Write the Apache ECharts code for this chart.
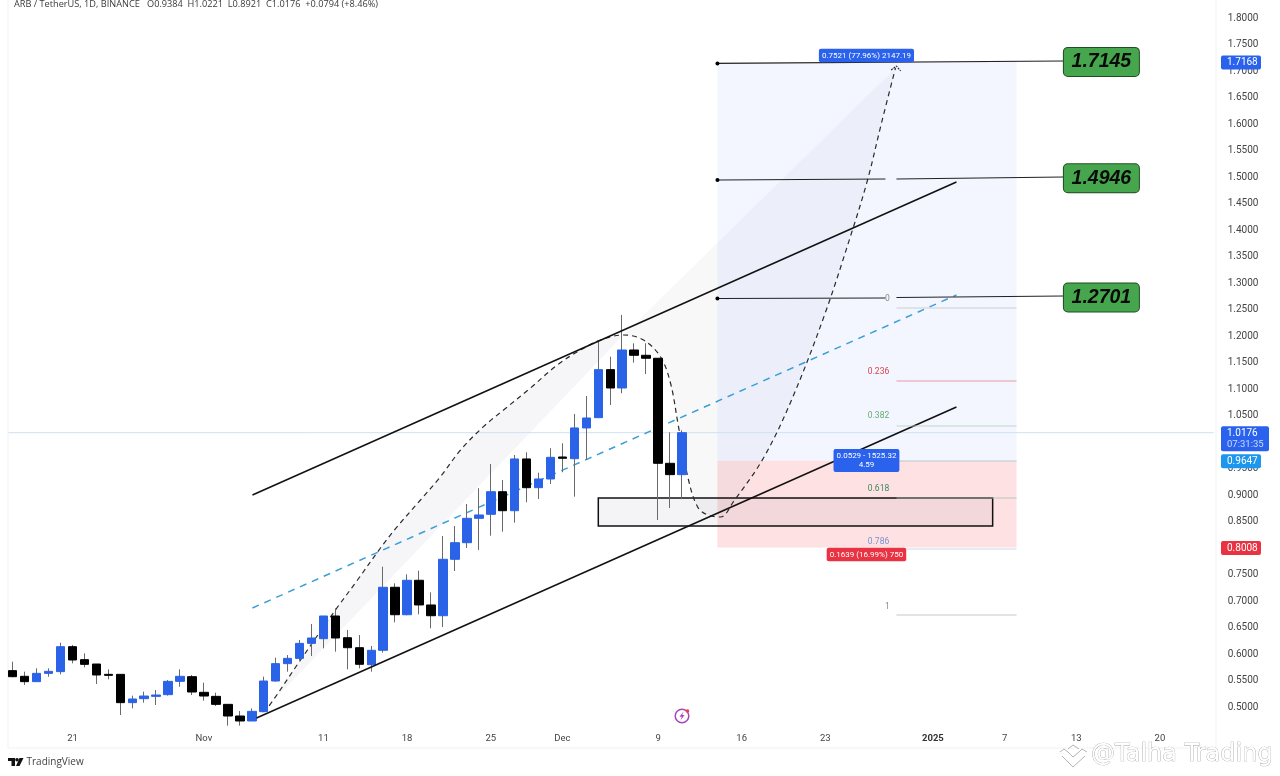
<!DOCTYPE html>
<html>
<head>
<meta charset="utf-8">
<style>html,body{margin:0;padding:0;background:#fff}#c{width:1280px;height:776px}</style>
<script src="https://cdn.jsdelivr.net/npm/echarts@6/dist/echarts.min.js"></script>
</head>
<body>
<div id="c"></div>
<script>
// Day index: 0 = 21 Oct 2024
var firstDay = -5;
var opens  = [.5686,.5579,.5478,.5635,.5667,.6138,.5893,.5811,.5616,.5616,.5082,.5157,.5201,.5233,.5484,.5572,.5277,.5201,.5050,.4830,.4736,.4912,.5490,.5818,.5918,.6201,.6289,.6717,.6307,.6119,.5798,.6070,.7259,.6741,.7391,.6925,.6722,.7787,.8100,.8560,.8636,.9062,.8704,.9680,.9138,.9302,.9717,.9685,1.0265,1.0459,1.1365,1.1019,1.1736,1.1636,1.1580,.9598,.9384];
var closes = [.5572,.5478,.5635,.5673,.6138,.5887,.5805,.5604,.5597,.5082,.5151,.5207,.5226,.5484,.5579,.5283,.5207,.5050,.4830,.4736,.4918,.5490,.5818,.5918,.6201,.6302,.6717,.6302,.6119,.5806,.6070,.7259,.6741,.7391,.6925,.6722,.7787,.8100,.8560,.8623,.9062,.8704,.9680,.9138,.9302,.9711,.9693,1.0265,1.0453,1.1365,1.1019,1.1736,1.1636,1.1580,.9598,.9384,1.0176];
var lows   = [.5560,.5415,.5478,.5572,.5616,.5824,.5748,.5434,.5522,.4849,.4975,.5082,.5038,.5214,.5384,.5226,.5119,.5019,.4648,.4648,.4736,.4912,.5478,.5667,.5887,.5962,.6107,.6044,.5711,.5730,.5666,.6025,.6598,.6730,.6749,.6485,.6509,.7566,.8000,.7963,.8232,.8308,.8478,.8863,.8925,.9208,.9429,.8968,.9661,1.0459,1.0698,1.0919,1.1497,1.1283,.8529,.8755,.8921];
var highs  = [.5855,.5667,.5730,.5730,.6214,.6170,.6013,.5811,.5711,.5616,.5214,.5289,.5321,.5509,.5711,.5604,.5459,.5270,.5050,.4924,.4975,.5572,.5931,.5981,.6264,.6566,.6717,.6862,.6453,.6358,.6151,.7647,.7334,.7504,.7572,.7164,.8226,.8415,.8830,.9127,.9585,.9283,.9755,.9806,.9421,.9882,.9976,1.0529,1.0868,1.1893,1.1610,1.2397,1.1863,1.1863,1.1580,1.0183,1.0221];

var xTickLabels = {0:'21',11:'Nov',21:'11',28:'18',35:'25',41:'Dec',49:'9',56:'16',63:'23',72:'{b|2025}',78:'7',84:'13',91:'20'};
var curveDays = [15.9,16.4,19.08,22.0,23.85,25.77,27.17,29.12,30.79,32.47,34.39,36.07,38.33,40.56,42.51,44.18,46.11,47.78,49.2,50.04,50.71,51.55,52.3,53.14,54.23,55.31,57.82,60.17,62.93,65.27,66.53,67.7,68.87];
var curvePrices = [.4906,.5006,.5887,.683,.7396,.8,.8402,.8906,.9345,.9849,1.0289,1.0604,1.1019,1.1453,1.1736,1.1925,1.2019,1.1925,1.1609,1.1113,1.0289,.9283,.8779,.8623,.8585,.8874,.9698,1.0792,1.2396,1.4,1.4943,1.6019,1.7057];
var curveSplit = 16; // the curve's peak: two filled sections meet here
var arrowDays = [68.5,68.95,69.3];
var arrowPrices = [1.7019,1.7094,1.7];
var channelUpper = [[15.06,.9],[73.97,1.4906]];
var channelLower = [[15.4,.4792],[73.97,1.066]];
var channelMid   = [[15.06,.6868],[73.97,1.2774]];
var targetLines = [
  [[53.97,1.7142],[82.93,1.7189]],
  [[53.97,1.4943],[68.03,1.4962]],
  [[68.95,1.4962],[82.93,1.5]],
  [[53.97,1.2708],[68.03,1.2717]],
  [[68.95,1.2726],[82.93,1.2755]]
];
var anchorPoints = [[53.97,1.7142],[53.97,1.4943],[53.97,1.2708]];
var targetLabels = [['1.7145',86.1,1.7172],['1.4946',86.1,1.4975],['1.2701',86.1,1.2725]];
var fibLevels = ['0','0.236','0.382','0.5','0.618','0.786','1'];
var fibPrices = [1.2528,1.1151,1.0302,.9642,.8943,.7981,.6736];
var fibColors = ['#c4c4c8','#e8828a','#b4d0b8','#9ec4c8','#a5c0b0','#c0cce8','#b8b8bc'];
var fibLabelDays = [68.2,67.45,67.45,null,67.45,67.45,68.2];
var fibLabelPrices = [1.2700,1.132,1.0485,null,.9112,.8125,.6890];
var fibLabelColors = ['#888','#d9434f','#6aab72',null,'#3d8a5c','#7b92cc','#888'];
var fibStart = 68.95, fibEnd = 79;
var positionBox = {left:53.97,right:79,target:1.7168,entry:.9647,stop:.8008};
var zoneBox = [44,.8943,77,.8415];
var lastPrice = 1.0176;
var yTicksFrom = .5;
var priceTags = [
  [1.7168,'1.7168','','#2a62ee',40],
  [1.0176,'1.0176','07:31:35','#2a62ee',48],
  [.9647,'0.9647','','#1d97ee',40],
  [.8008,'0.8008','','#ea3342',40]
];
var positionTags = [
  ['0.7521 (77.96%) 2147.19',66.44,1.7292,'#2a62ee'],
  ['0.0529 - 1525.32\n4.59',66.44,.9651,'#2a62ee'],
  ['0.1639 (16.99%) 750',66.44,.7877,'#ea3342']
];

var BLUE='#2a62e8', BLACK='#000000', FONT='Roboto, "Open Sans", sans-serif';
var days = opens.map(function(_,i){return firstDay+i;});
var wickData = days.map(function(d,i){return [d,opens[i],closes[i],lows[i],highs[i]];});
var bodyData = days.map(function(d,i){
  return [d,opens[i],closes[i],Math.min(opens[i],closes[i]),Math.max(opens[i],closes[i])];
});
function zip(a,b){return a.map(function(v,i){return [v,b[i]];});}
var curve = zip(curveDays,curvePrices);

function lineS(data,color,width,type,z,smooth){
  return {type:'line',data:data,symbol:'none',silent:true,z:z,smooth:smooth||false,clip:false,
    lineStyle:{color:color,width:width,type:type||'solid',cap:'butt'}};
}
function rectS(data,color,stroke,z){
  return {type:'custom',silent:true,z:z,clip:false,data:[data],encode:{x:[0,2],y:[1,3]},
    renderItem:function(p,api){
      var a=api.coord([api.value(0),api.value(1)]),b=api.coord([api.value(2),api.value(3)]);
      return {type:'rect',shape:{x:a[0],y:a[1],width:b[0]-a[0],height:b[1]-a[1]},
        style:{fill:color,stroke:stroke||null,lineWidth:1.5}};
    }};
}
function polyS(pts,color,z){
  return {type:'custom',silent:true,z:z,clip:false,data:pts,encode:{x:0,y:1},
    renderItem:function(p,api){
      if(p.dataIndex!==0) return null;
      return {type:'polygon',shape:{points:pts.map(function(q){return api.coord(q);})},style:{fill:color}};
    }};
}
function labelS(item,label,z){
  return {type:'scatter',silent:true,z:z,symbolSize:1,itemStyle:{color:'rgba(0,0,0,0)',opacity:1},clip:false,
    data:[item],label:Object.assign({show:true,position:'inside'},label)};
}

var series = [
  rectS([positionBox.left,positionBox.target,positionBox.right,positionBox.entry],'rgba(41,98,255,0.055)',null,1),
  rectS([positionBox.left,positionBox.entry,positionBox.right,positionBox.stop],'rgba(242,54,69,0.15)',null,1),
  polyS(curve.slice(0,curveSplit+1),'rgba(110,110,140,0.06)',2),
  polyS(curve.slice(curveSplit),'rgba(110,110,140,0.05)',2),
  rectS(zoneBox,'rgba(70,70,100,0.06)','#111',3),
  lineS([[-5.36,lastPrice],[95.5,lastPrice]],'#cfe2f3',1,null,3),
  lineS(channelMid,'#3a9fd6',1.5,[7,6],3),
  lineS(curve,'#2a2a2a',1.2,[5,4],3,0.35),
  {type:'candlestick',name:'wicks',data:wickData,encode:{x:0,y:[1,2,3,4]},barWidth:1,z:4,silent:true,clip:false,
    itemStyle:{color:'#6a6a6a',color0:'#6a6a6a',borderColor:'#6a6a6a',borderColor0:'#6a6a6a',borderWidth:1}},
  {type:'candlestick',name:'ARB / TetherUS',data:bodyData,encode:{x:0,y:[1,2,3,4]},barWidth:9,z:5,silent:true,clip:false,
    itemStyle:{color:BLUE,color0:BLACK,borderColor:BLUE,borderColor0:BLACK,borderWidth:1}},
  lineS(channelUpper,'#111',1.5,null,6),
  lineS(channelLower,'#111',1.5,null,6),
  lineS(zip(arrowDays,arrowPrices),'#2a2a2a',1.1,[2,1],6)
];
targetLines.forEach(function(l){series.push(lineS(l,'#222',1.2,null,6));});
fibLevels.forEach(function(name,i){
  series.push(lineS([[fibStart,fibPrices[i]],[fibEnd,fibPrices[i]]],fibColors[i],.8,null,6));
  if(fibLabelDays[i]!==null){
    series.push(labelS([fibLabelDays[i],fibLabelPrices[i]],
      {formatter:name,color:fibLabelColors[i],fontSize:8.5,fontFamily:FONT},7));
  }
});
series.push({type:'scatter',data:anchorPoints,symbolSize:4,z:7,silent:true,clip:false,itemStyle:{color:'#000',opacity:1}});
targetLabels.forEach(function(t){
  series.push(labelS([t[1],t[2]],{formatter:t[0],color:'#0a0a0a',fontSize:19.5,fontWeight:'bold',fontStyle:'italic',
    fontFamily:'"Liberation Sans", sans-serif',backgroundColor:'#46a64d',borderColor:'#1f4d24',borderWidth:1,borderRadius:4,
    width:75,height:28,lineHeight:28,align:'center',verticalAlign:'middle'},8));
});
positionTags.forEach(function(t){
  series.push(labelS([t[1],t[2]],{formatter:t[0],color:'#fff',fontSize:8,lineHeight:9.5,fontFamily:FONT,align:'center',
    backgroundColor:t[3],borderRadius:2,padding:[2,3]},8));
});
series.push({type:'custom',silent:true,z:9,clip:false,data:priceTags.map(function(t){return [95,t[0]];}),encode:{x:0,y:1},
  renderItem:function(p,api){
    var t=priceTags[p.dataIndex], c=api.coord([api.value(0),api.value(1)]), x=1221, y=c[1]+.5, two=!!t[2];
    var kids=[
      {type:'rect',shape:{x:x,y:y-7,width:t[4],height:two?25:14,r:2},style:{fill:t[3]}},
      {type:'text',style:{x:x+6,y:y,text:t[1],fill:'#fff',font:'10px '+FONT,verticalAlign:'middle'}}
    ];
    if(two) kids.push({type:'text',style:{x:x+6,y:y+11,text:t[2],fill:'rgba(255,255,255,0.75)',font:'9.5px '+FONT,verticalAlign:'middle'}});
    return {type:'group',children:kids};
  }});

var option = {
  animation:false,
  backgroundColor:'#ffffff',
  title:{text:'ARB / TetherUS, 1D, BINANCE   O0.9384  H1.0221  L0.8921  C1.0176  +0.0794 (+8.46%)',left:14,top:0,padding:0,
    textStyle:{fontSize:9.2,fontWeight:'normal',color:'#3a3a3a',fontFamily:'"Open Sans", sans-serif'}},
  grid:{left:0.8,right:60.3,top:18,bottom:42.5,containLabel:false,outerBoundsMode:'none'},
  xAxis:{type:'value',min:-6,max:96,interval:1,splitLine:{show:false},axisLine:{show:false},axisTick:{show:false},
    axisLabel:{margin:0,fontSize:9.5,color:'#444',fontFamily:FONT,showMinLabel:true,showMaxLabel:true,hideOverlap:false,
      formatter:function(v){return xTickLabels[v]||'';},rich:{b:{fontWeight:'bold',fontSize:9.5,color:'#333',fontFamily:FONT}}}},
  yAxis:{type:'value',position:'right',min:.45,max:1.8,interval:.05,splitLine:{show:false},axisLine:{show:false},axisTick:{show:false},
    axisLabel:{margin:8,fontSize:10,color:'#444',fontFamily:FONT,align:'left',padding:[6,0,0,0],
      formatter:function(v){return v<yTicksFrom-1e-9?'':v.toFixed(4);}}},
  series:series,
  graphic:[
    {type:'line',shape:{x1:8,y1:0,x2:8,y2:748},style:{stroke:'#f1f1f4',lineWidth:1},silent:true},
    {type:'line',shape:{x1:8,y1:748,x2:1216,y2:748},style:{stroke:'#f1f1f4',lineWidth:1},silent:true},
    {type:'line',shape:{x1:1216,y1:0,x2:1216,y2:748},style:{stroke:'#f1f1f4',lineWidth:1},silent:true},
    // TradingView mark
    {type:'polygon',shape:{points:[[8,758],[15,758],[15,766],[11.5,766],[11.5,761],[8,761]]},style:{fill:'#111'},silent:true},
    {type:'circle',shape:{cx:17,cy:759.8,r:1.8},style:{fill:'#111'},silent:true},
    {type:'polygon',shape:{points:[[19.5,758],[23.5,758],[19.5,766],[16,766]]},style:{fill:'#111'},silent:true},
    {type:'text',style:{x:26.5,y:762,text:'TradingView',fill:'#444',font:'10px "Open Sans", sans-serif',verticalAlign:'middle'},silent:true},
    // flash icon
    {type:'circle',shape:{cx:682,cy:716,r:6.8},style:{fill:'#fff',stroke:'#a548bd',lineWidth:1.5},silent:true},
    {type:'polygon',shape:{points:[[683.5,711.5],[679.5,716.8],[681.8,716.8],[680.5,720.5],[684.5,715],[682.2,715]]},style:{fill:'#a548bd'},silent:true},
    {type:'circle',shape:{cx:687.5,cy:711,r:1.8},style:{fill:'#e8404a'},silent:true},
    // watermark
    {type:'polyline',shape:{points:[[1062,756],[1073,767],[1085,756]]},style:{stroke:'#b5b5b5',fill:null,lineWidth:1},silent:true},
    {type:'polyline',shape:{points:[[1060,752],[1064,749],[1068,752],[1073,757],[1079,752],[1082,749],[1087,752]]},style:{stroke:'#b5b5b5',fill:null,lineWidth:1},silent:true},
    {type:'polyline',shape:{points:[[1068,749],[1073,745],[1079,749]]},style:{stroke:'#b5b5b5',fill:null,lineWidth:1},silent:true},
    {type:'text',style:{x:1091,y:755,text:'@Talha Trading',fill:'#ffffff',stroke:'#a0a0a0',lineWidth:.7,font:'24px "DejaVu Sans", sans-serif',verticalAlign:'middle'},silent:true}
  ]
};
var chart = echarts.init(document.getElementById('c'),null,{renderer:'canvas',width:1280,height:776});
chart.setOption(option);
</script>
</body>
</html>
